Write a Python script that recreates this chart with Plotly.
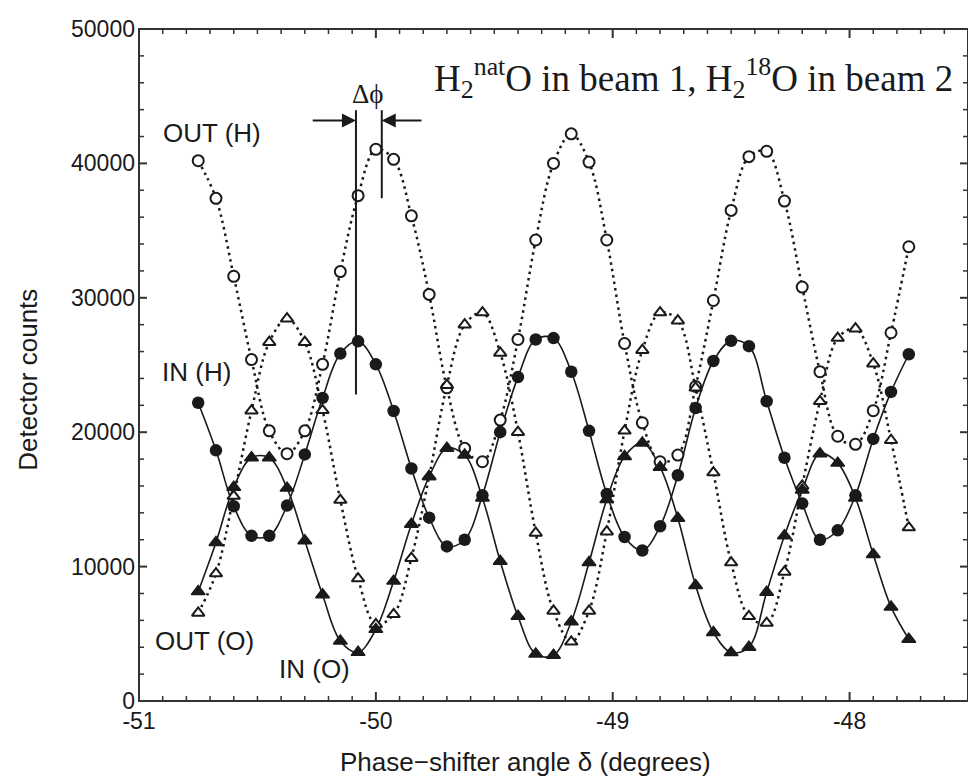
import plotly.graph_objects as go

# ---------------- data ----------------
angle = [-50.75, -50.675, -50.6, -50.525, -50.45, -50.375, -50.3, -50.225, -50.15, -50.075,
         -50.0, -49.925, -49.85, -49.775, -49.7, -49.625, -49.55, -49.475, -49.4, -49.325,
         -49.25, -49.175, -49.1, -49.025, -48.95, -48.875, -48.8, -48.725, -48.65, -48.575,
         -48.5, -48.425, -48.35, -48.275, -48.2, -48.125, -48.05, -47.975, -47.9, -47.825,
         -47.75]

out_h = [40200, 37400, 31600, 25400, 20100, 18400, 20100, 25050, 31950, 37600,
         41050, 40300, 36100, 30250, 23300, 18800, 17800, 20900, 26900, 34300,
         40000, 42200, 40100, 34300, 26600, 20700, 17800, 18300, 23400, 29800,
         36500, 40500, 40900, 37200, 30800, 24500, 19700, 19100, 21600, 27400,
         33800]

out_o = [6550, 9480, 15250, 21600, 26700, 28450, 26700, 21630, 14950, 9110,
         5700, 6450, 10630, 16700, 23500, 28000, 28900, 25900, 20000, 12500,
         6700, 4400, 6700, 12600, 20100, 26100, 28900, 28300, 23300, 17000,
         10300, 6300, 5800, 9600, 16000, 22300, 27000, 27700, 25100, 19400,
         12900]

in_h = [22190, 18650, 14490, 12290, 12290, 14540, 18350, 22550, 25850, 26760,
        25050, 21580, 17300, 13640, 11500, 12000, 15300, 20000, 24100, 26900,
        27000, 24500, 20100, 15400, 12200, 11200, 13000, 16800, 21800, 25300,
        26800, 26400, 22300, 18100, 14700, 12000, 12700, 15300, 19500, 23000,
        25800]

in_o = [8140, 11800, 15900, 18100, 18100, 15840, 11930, 7900, 4470, 3620,
        5330, 8920, 13150, 16700, 18800, 18300, 15100, 10400, 6300, 3500,
        3400, 5900, 10300, 15000, 18200, 19200, 17400, 13600, 8600, 5100,
        3600, 4000, 8100, 12300, 15700, 18400, 17700, 15100, 10900, 7000,
        4600]

x_ticks = [-51, -50, -49, -48]
x_tick_text = ["-51", "-50", "-49", "-48"]
y_ticks = [0, 10000, 20000, 30000, 40000, 50000]
y_tick_text = ["0", "10000", "20000", "30000", "40000", "50000"]
x_range = [-51, -47.5]
y_range = [0, 50000]
x_minor_step, y_minor_step = 0.1, 2000

# phase-shift marker positions (degrees) and counts
dphi_left, dphi_right = -50.084, -49.975
dphi_top = 43960
dphi_left_bottom, dphi_right_bottom = 22800, 37410
arrow_y = 43200
arrow_left_tail, arrow_right_tail = -50.273, -49.801

# ---------------- layout geometry ----------------
# the page body has an 8px default margin, so the figure is drawn 8px smaller
# and every page-pixel position is shifted by that margin
OFF = 8
W, H = 976 - OFF, 778 - OFF
L, R, T, B = 139 - OFF, 968 - OFF, 19 - OFF, 701 - OFF
PW, PH = R - L, B - T


def px(xp):
    return (xp - OFF - L) / PW


def py(yp):
    return (B - (yp - OFF)) / PH


INK = "#1a1a1a"
AX = "#333333"
SANS = "Liberation Sans, Arial, sans-serif"
SERIF = "Liberation Serif, Times New Roman, serif"

fig = go.Figure()

# curves first
for ys, dash, lw in [(out_h, "2.5px,4px", 2.5), (out_o, "2.5px,4px", 2.5),
                     (in_h, "solid", 1.6), (in_o, "solid", 1.6)]:
    fig.add_trace(go.Scatter(x=angle, y=ys, mode="lines",
                             line=dict(shape="spline", smoothing=1.0, color=INK, width=lw, dash=dash),
                             hoverinfo="skip", showlegend=False))

# markers on top
fig.add_trace(go.Scatter(x=angle, y=out_h, mode="markers", showlegend=False,
                         marker=dict(symbol="circle", size=11, color="white", line=dict(color=INK, width=2))))
fig.add_trace(go.Scatter(x=angle, y=out_o, mode="markers", showlegend=False,
                         marker=dict(symbol="triangle-up", size=11, color="white", line=dict(color=INK, width=2))))
fig.add_trace(go.Scatter(x=angle, y=in_h, mode="markers", showlegend=False,
                         marker=dict(symbol="circle", size=12.5, color=INK, line=dict(color=INK, width=0))))
fig.add_trace(go.Scatter(x=angle, y=in_o, mode="markers", showlegend=False,
                         marker=dict(symbol="triangle-up", size=12, color=INK, line=dict(color=INK, width=1.5))))

# ---------- frame and inside ticks on all four sides ----------
fig.add_shape(type="rect", xref="paper", yref="paper", x0=0, x1=1, y0=0, y1=1,
              line=dict(color=AX, width=2), fillcolor="rgba(0,0,0,0)", layer="above")

n_x = int(round((x_range[1] - x_range[0]) / x_minor_step))
for k in range(n_x + 1):
    v = round(x_range[0] + k * x_minor_step, 3)
    major = (k % 10 == 0)
    ln, w = (9, 2) if major else (5, 1.5)
    for anchor, sign in [(0, 1), (1, -1)]:
        fig.add_shape(type="line", xref="x", yref="paper", x0=v, x1=v,
                      ysizemode="pixel", yanchor=anchor, y0=0, y1=sign * ln,
                      line=dict(color=AX, width=w), layer="above")

n_y = int(round((y_range[1] - y_range[0]) / y_minor_step))
for k in range(n_y + 1):
    v = y_range[0] + k * y_minor_step
    major = (k % 5 == 0)
    ln, w = (8, 2) if major else (5, 1.5)
    for anchor, sign in [(0, 1), (1, -1)]:
        fig.add_shape(type="line", xref="paper", yref="y", y0=v, y1=v,
                      xsizemode="pixel", xanchor=anchor, x0=0, x1=sign * ln,
                      line=dict(color=AX, width=w), layer="above")

# phase-shift markers
fig.add_shape(type="line", x0=dphi_left, x1=dphi_left, y0=dphi_left_bottom, y1=dphi_top,
              xref="x", yref="y", line=dict(color=INK, width=2))
fig.add_shape(type="line", x0=dphi_right, x1=dphi_right, y0=dphi_right_bottom, y1=dphi_top,
              xref="x", yref="y", line=dict(color=INK, width=2))
fig.add_annotation(x=dphi_left, y=arrow_y, ax=arrow_left_tail, ay=arrow_y, xref="x", yref="y",
                   axref="x", ayref="y", text="", showarrow=True, arrowhead=2, arrowsize=1.4,
                   arrowwidth=2, arrowcolor=INK, standoff=0)
fig.add_annotation(x=dphi_right, y=arrow_y, ax=arrow_right_tail, ay=arrow_y, xref="x", yref="y",
                   axref="x", ayref="y", text="", showarrow=True, arrowhead=2, arrowsize=1.4,
                   arrowwidth=2, arrowcolor=INK, standoff=0)
fig.add_annotation(x=px(368), y=py(85), xref="paper", yref="paper", text="Δϕ", showarrow=False,
                   font=dict(family=SERIF, size=27, color=INK),
                   xanchor="center", yanchor="middle")

# title inside the plot
fig.add_annotation(x=px(955), y=py(69), xref="paper", yref="paper",
                   text="H<sub>2</sub><sup>nat</sup>O in beam 1, H<sub>2</sub><sup>18</sup>O in beam 2",
                   showarrow=False, xanchor="right", yanchor="middle",
                   font=dict(family=SERIF, size=37, color=INK))

# series labels
lab_font = dict(family=SANS, size=26, color=INK)
for txt, cx, cy in [("OUT (H)", 212, 125), ("IN (H)", 196, 367), ("OUT (O)", 204, 640), ("IN (O)", 314, 669)]:
    fig.add_annotation(x=px(cx), y=py(cy), xref="paper", yref="paper", text=txt, showarrow=False,
                       xanchor="center", yanchor="middle", font=lab_font)

# axis titles
fig.add_annotation(x=px(525), y=py(763), xref="paper", yref="paper",
                   text="Phase\u2212shifter angle δ (degrees)", showarrow=False,
                   xanchor="center", yanchor="middle",
                   font=dict(family=SANS, size=26, color=INK))
fig.add_annotation(x=px(28), y=py(375), xref="paper", yref="paper",
                   text="Detector counts", showarrow=False, textangle=-90,
                   xanchor="center", yanchor="middle",
                   font=dict(family=SANS, size=26, color=INK))

tick_font = dict(family=SANS, size=23, color=INK)
fig.update_xaxes(range=x_range, tickvals=x_ticks, ticktext=x_tick_text, ticks="",
                 showline=False, showgrid=False, zeroline=False, tickfont=tick_font,
                 ticklabeloverflow="allow", ticklabelstandoff=4)
fig.update_yaxes(range=y_range, tickvals=y_ticks, ticktext=y_tick_text, ticks="",
                 showline=False, showgrid=False, zeroline=False, tickfont=tick_font,
                 ticklabeloverflow="allow", ticklabelstandoff=3)

fig.update_layout(width=W, height=H, margin=dict(l=L, r=W - R, t=T, b=H - B),
                  paper_bgcolor="white", plot_bgcolor="white", showlegend=False)

fig.write_html("out.html")
